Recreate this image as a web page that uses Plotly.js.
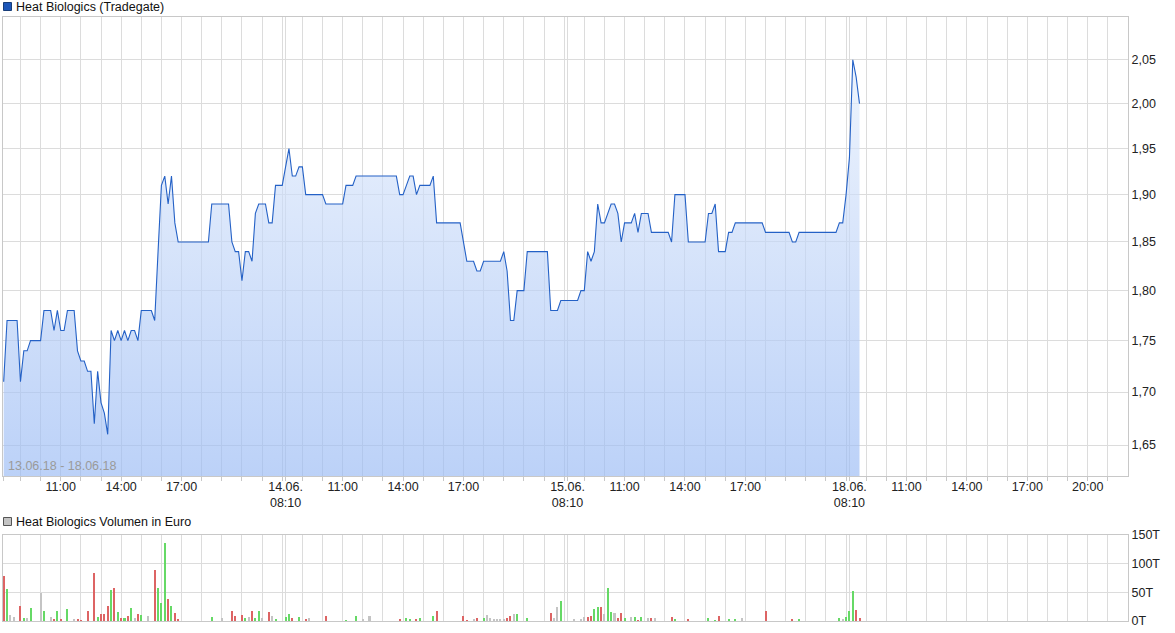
<!DOCTYPE html>
<html><head><meta charset="utf-8">
<script src="https://cdn.plot.ly/plotly-3.0.1.min.js"></script>
<style>html,body{margin:0;padding:0;background:#fff;} #chart{width:1175px;height:633px;}</style>
</head><body><div id="chart"></div>
<script>
// ---------- DATA ----------
const seriesName = 'Heat Biologics (Tradegate)';
const volumeName = 'Heat Biologics Volumen in Euro';
const periodText = '13.06.18 - 18.06.18';
const tradingDays = ['2018-06-13', '2018-06-14', '2018-06-15', '2018-06-18'];

// price (EUR) per trading day: time of day and value
const price13Times = ['08:10','08:20','08:50','09:00','09:10','09:20','09:30','10:00','10:10','10:30','10:40','10:50','11:00','11:10','11:20','11:40','11:50','12:00','12:10','12:20','12:30','12:40','12:50','13:00','13:10','13:20','13:30','13:40','13:50','14:00','14:10','14:20','14:30','14:40','14:50','15:00','15:30','15:40','15:50','16:00','16:10','16:20','16:30','16:40','16:50','18:20','18:30','19:20','19:30','19:40','19:50','20:00','20:10','20:20','20:30','20:40','20:50','21:10','21:20','21:30','21:40','21:50'];
const price13Values = [1.71,1.77,1.77,1.71,1.74,1.74,1.75,1.75,1.78,1.78,1.76,1.78,1.76,1.76,1.78,1.78,1.74,1.73,1.73,1.72,1.72,1.67,1.72,1.69,1.68,1.66,1.76,1.75,1.76,1.75,1.76,1.75,1.76,1.76,1.75,1.78,1.78,1.77,1.84,1.91,1.92,1.89,1.92,1.87,1.85,1.85,1.89,1.89,1.85,1.84,1.84,1.81,1.84,1.84,1.83,1.88,1.89,1.89,1.87,1.87,1.91,1.91];
const price14Times = ['08:00','08:10','08:20','08:30','08:40','08:50','09:00','09:10','10:00','10:10','11:00','11:10','11:30','11:40','13:40','13:50','14:00','14:10','14:20','14:30','14:40','14:50','15:20','15:30','15:40','16:50','17:00','17:10','17:30','17:40','17:50','18:00','18:50','19:00','19:10','19:20','19:30','19:40','20:00','20:10','21:10','21:20','21:40','21:50'];
const price14Values = [1.91,1.93,1.95,1.92,1.92,1.93,1.93,1.90,1.90,1.89,1.89,1.91,1.91,1.92,1.92,1.90,1.90,1.91,1.92,1.92,1.90,1.91,1.91,1.92,1.87,1.87,1.85,1.83,1.83,1.82,1.82,1.83,1.83,1.84,1.82,1.77,1.77,1.80,1.80,1.84,1.84,1.78,1.78,1.79];
const price15Times = ['08:40','08:50','09:00','09:10','09:20','09:30','09:40','09:50','10:00','10:10','10:20','10:30','10:40','10:50','11:00','11:20','11:30','11:40','11:50','12:10','12:20','13:10','13:20','13:30','14:00','14:10','15:00','15:10','15:20','15:30','15:40','16:00','16:10','16:20','16:30','17:50','18:00','19:10','19:20','19:30','19:40','21:30','21:40','21:50'];
const price15Values = [1.79,1.80,1.80,1.84,1.83,1.84,1.89,1.87,1.87,1.88,1.89,1.89,1.88,1.85,1.87,1.87,1.88,1.86,1.88,1.88,1.86,1.86,1.85,1.90,1.90,1.85,1.85,1.88,1.88,1.89,1.84,1.84,1.86,1.86,1.87,1.87,1.86,1.86,1.85,1.85,1.86,1.86,1.87,1.87];
const price18Times = ['08:00','08:10','08:20','08:30','08:40'];
const price18Values = [1.90,1.94,2.05,2.03,2.00];

// volume (thousand EUR) per trading day; direction u = up, d = down, n = unchanged
const vol13Times = ['08:10','08:20','08:30','08:40','09:00','09:10','09:20','09:30','10:00','10:10','10:30','10:40','10:50','11:00','11:20','11:40','11:50','12:00','12:20','12:40','12:50','13:00','13:10','13:20','13:30','13:40','13:50','14:00','14:10','14:20','14:30','14:40','14:50','15:00','15:20','15:40','15:50','16:00','16:10','16:20','16:30','16:40','16:50','18:30','19:00','19:30','19:40','20:00','20:10','20:20','20:30','20:40','20:50','21:00','21:20','21:30','21:40'];
const vol13Values = [78.5,56,9.7,6.3,27,4.6,4.6,23.5,49,18.3,6.3,2.9,16.6,2.9,21.8,2.9,2.9,1.2,16.6,83.6,6.3,11.5,11.5,27,54.4,57.8,14.9,4.6,4.6,8,23.5,4.6,11.5,9.7,8,88.8,57.8,32,136.9,38.9,27,13.2,2.9,6.3,4.6,18.3,8,9.7,4.6,6.3,16.6,4.6,18.3,4.6,14.9,8,2.9];
const vol13Dir = ['d','u','n','n','d','u','n','u','n','u','n','d','u','d','u','n','d','d','d','d','u','d','d','d','u','d','u','d','u','d','u','n','d','u','n','d','u','u','u','d','u','d','d','u','n','d','d','d','u','n','d','u','u','n','d','n','u'];
const vol14Times = ['08:10','08:20','08:30','08:50','09:10','09:20','10:10','11:10','11:40','12:00','12:20','13:50','14:10','14:20','14:40','14:50','15:30','15:40','17:00','17:10','17:30','17:40','18:00','18:10','18:20','18:30','18:40','18:50','19:00','19:10','19:20','19:30','19:40','20:10','21:20','21:30','21:40','21:50'];
const vol14Values = [6.3,11.5,4.6,6.3,2.9,4.6,8,1.2,8,2.9,8,2.9,4.6,2.9,2.9,4.6,8,16.6,8,1.1,2.9,4.6,4.6,9.7,4.6,2.9,2.9,2.9,2.9,4.6,8,11.5,11.5,4.6,13.2,4.6,25.2,35.5];
const vol14Dir = ['u','u','d','u','d','n','d','u','u','n','n','d','u','u','d','u','u','d','d','d','n','d','u','n','n','n','n','n','n','d','d','n','u','u','d','n','n','u'];
const vol15Times = ['08:30','08:50','09:00','09:10','09:20','09:30','09:40','09:50','10:00','10:10','10:20','10:30','10:40','10:50','11:00','11:20','11:30','11:40','11:50','12:10','12:20','12:30','13:20','13:30','14:10','15:10','15:30','15:40','16:10','16:30','16:50','18:00','19:20','19:40','21:40','21:50'];
const vol15Values = [2.9,2.9,6.3,6.3,8,21.8,25.2,25.2,11.5,57.8,14.9,13.2,4.6,13.2,4.6,6.3,6.3,1.1,6.3,4.6,4.6,4.6,6.3,2.9,2.9,4.6,1.1,8,2.9,2.9,4.6,16.6,2.9,2.9,4.6,2.9];
const vol15Dir = ['n','n','n','d','d','u','u','d','n','u','u','n','d','d','u','n','u','d','u','n','d','n','d','u','d','u','u','d','u','u','n','d','d','u','u','n'];
const vol18Times = ['08:00','08:10','08:20','08:30','08:40'];
const vol18Values = [6.3,18.3,51.5,20,4.6];
const vol18Dir = ['u','u','u','d','d'];

// axis ticks
const priceTickValues = [1.65,1.70,1.75,1.80,1.85,1.90,1.95,2.00,2.05];
const priceTickLabels = ['1,65','1,70','1,75','1,80','1,85','1,90','1,95','2,00','2,05'];
const volumeTickValues = [0,50,100,150];
const volumeTickLabels = ['0T','50T','100T','150T'];
const timeLabelPositions = ['2018-06-13 11:00','2018-06-13 14:00','2018-06-13 17:00',
  '2018-06-14 08:10','2018-06-14 11:00','2018-06-14 14:00','2018-06-14 17:00',
  '2018-06-15 08:10','2018-06-15 11:00','2018-06-15 14:00','2018-06-15 17:00',
  '2018-06-18 08:10','2018-06-18 11:00','2018-06-18 14:00','2018-06-18 17:00','2018-06-18 20:00'];
const timeLabelTexts = ['11:00','14:00','17:00',
  '14.06.<br>08:10','11:00','14:00','17:00',
  '15.06.<br>08:10','11:00','14:00','17:00',
  '18.06.<br>08:10','11:00','14:00','17:00','20:00'];
const timeRange = ['2018-06-13 08:08','2018-06-18 22:00'];
const priceRange = [1.6215, 2.10];
const volumeRange = [0, 150];

// ---------- BUILD ----------
function join(day, times) { return times.map(t => day + ' ' + t); }
const priceX = [].concat(join(tradingDays[0], price13Times), join(tradingDays[1], price14Times),
                         join(tradingDays[2], price15Times), join(tradingDays[3], price18Times));
const priceY = [].concat(price13Values, price14Values, price15Values, price18Values);
const volX = [].concat(join(tradingDays[0], vol13Times), join(tradingDays[1], vol14Times),
                       join(tradingDays[2], vol15Times), join(tradingDays[3], vol18Times));
const volY = [].concat(vol13Values, vol14Values, vol15Values, vol18Values);
const volDir = [].concat(vol13Dir, vol14Dir, vol15Dir, vol18Dir);
const dirColor = {u: '#66d966', d: '#dd6464', n: '#c4c4c4'};

// hourly grid ticks + 08:10 session-start ticks
const tickVals = [], tickText = [];
tradingDays.forEach(day => {
  for (let h = 8; h <= 21; h++) {
    const hh = (h < 10 ? '0' : '') + h;
    [hh + ':00'].concat(h === 8 ? ['08:10'] : []).forEach(t => {
      const v = day + ' ' + t;
      tickVals.push(v);
      const i = timeLabelPositions.indexOf(v);
      tickText.push(i >= 0 ? timeLabelTexts[i] : '');
    });
  }
});

const W = 1175, H = 633, M = {l: 3, r: 47, t: 17, b: 12};
const PW = W - M.l - M.r, PH = H - M.t - M.b;
const px = x => (x - M.l) / PW;
const py = y => 1 - (y - M.t) / PH;

const gridC = '#dcdcdc', lineC = '#c8c8c8';
const FONT = '"Liberation Sans", Arial, Helvetica, sans-serif';
const FS = 12.5;
const breaks = [{bounds: ['sat', 'mon']}, {bounds: [22, 8], pattern: 'hour'}];

const traces = [
  {x: [priceX[0], priceX[priceX.length - 1]], y: [priceRange[0], priceRange[0]],
   type: 'scatter', mode: 'lines', line: {width: 0, color: 'rgba(0,0,0,0)'},
   hoverinfo: 'skip', xaxis: 'x', yaxis: 'y', showlegend: false},
  {x: priceX, y: priceY, type: 'scatter', mode: 'lines', name: seriesName,
   line: {color: '#2461c6', width: 1.1}, fill: 'tonexty',
   fillgradient: {type: 'vertical', colorscale: [[0, 'rgba(153,186,244,0.66)'], [1, 'rgba(229,238,252,0.66)']]},
   xaxis: 'x', yaxis: 'y', showlegend: false},
  {x: volX, y: volY, type: 'bar', name: volumeName,
   marker: {color: volDir.map(d => dirColor[d]), line: {width: 0}},
   width: 6 * 60 * 1000, xaxis: 'x2', yaxis: 'y2', showlegend: false}
];

const xCommon = {
  type: 'date', range: timeRange, rangebreaks: breaks, domain: [0, 1],
  tickmode: 'array', tickvals: tickVals, showgrid: true, gridcolor: gridC, gridwidth: 1,
  showline: true, linecolor: lineC, linewidth: 1, mirror: true, zeroline: false, tickangle: 0
};

const layout = {
  width: W, height: H, margin: M, paper_bgcolor: '#fff', plot_bgcolor: '#fff',
  font: {family: FONT, size: FS, color: '#222'}, showlegend: false, bargap: 0,
  xaxis: Object.assign({}, xCommon, {anchor: 'y', ticktext: tickText, ticks: 'outside',
    ticklen: 4, tickcolor: lineC, ticklabelstandoff: -5,
    tickfont: {family: FONT, size: FS, color: '#222'}}),
  yaxis: {type: 'log', domain: [py(476), 1], anchor: 'x', side: 'right',
    range: [Math.log10(priceRange[0]), Math.log10(priceRange[1])],
    tickmode: 'array', tickvals: priceTickValues, ticktext: priceTickLabels, ticks: '',
    showgrid: true, gridcolor: gridC, showline: true, linecolor: lineC, mirror: true,
    zeroline: false, tickfont: {family: FONT, size: FS, color: '#222'}},
  xaxis2: Object.assign({}, xCommon, {anchor: 'y2', showticklabels: false, ticks: ''}),
  yaxis2: {domain: [0, py(535)], anchor: 'x2', side: 'right', range: volumeRange,
    tickmode: 'array', tickvals: volumeTickValues, ticktext: volumeTickLabels, ticks: '',
    showgrid: true, gridcolor: gridC, showline: true, linecolor: lineC, mirror: true,
    zeroline: false, tickfont: {family: FONT, size: FS, color: '#222'}},
  shapes: [
    {type: 'rect', xref: 'paper', yref: 'paper', x0: px(3.5), x1: px(11.5), y0: py(10.5), y1: py(2.5),
     fillcolor: '#1c56b8', line: {color: '#173d78', width: 1}},
    {type: 'rect', xref: 'paper', yref: 'paper', x0: px(3.5), x1: px(11.5), y0: py(525.5), y1: py(517.5),
     fillcolor: '#c4c4c4', line: {color: '#555555', width: 1}}
  ],
  annotations: [
    {xref: 'paper', yref: 'paper', x: px(14), y: py(7), xanchor: 'left', yanchor: 'middle',
     text: seriesName, showarrow: false, font: {family: FONT, size: FS, color: '#111'}},
    {xref: 'paper', yref: 'paper', x: px(14), y: py(522), xanchor: 'left', yanchor: 'middle',
     text: volumeName, showarrow: false, font: {family: FONT, size: FS, color: '#111'}},
    {xref: 'paper', yref: 'paper', x: px(6), y: py(466), xanchor: 'left', yanchor: 'middle',
     text: periodText, showarrow: false, font: {family: FONT, size: FS, color: '#9a9a9a'}}
  ]
};

Plotly.newPlot('chart', traces, layout, {staticPlot: true, displayModeBar: false});
</script>
</body></html>
